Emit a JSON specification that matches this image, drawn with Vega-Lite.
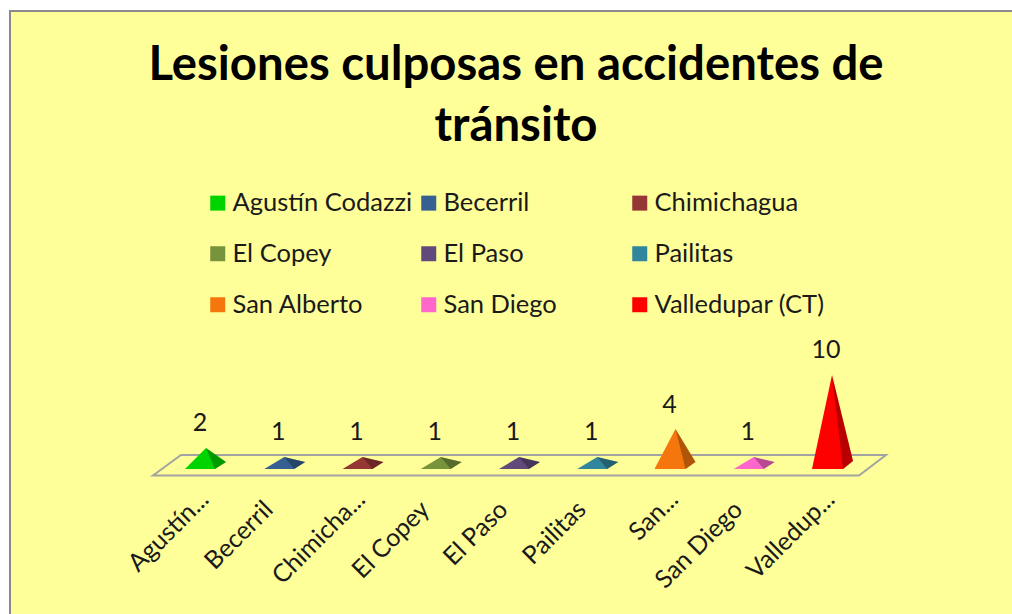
{
"$schema":"https://vega.github.io/schema/vega-lite/v6.json",
"width":1004,"height":605,
"autosize":"none",
"padding":{"left":10,"top":11,"right":0,"bottom":0},
"background":"#ffffff",
"view":{"fill":"#FFFF99","stroke":"#8A8A8A","strokeWidth":2},
"title":{"text":["Lesiones culposas en accidentes de","tránsito"],"font":"Lato","fontSize":47.3,"fontWeight":"bold","color":"#000000","frame":"group","anchor":"start","align":"center","dx":506,"dy":140,"lineHeight":61,"baseline":"top","offset":0},
"data":{"values":[
{"municipio":"Agustín Codazzi","etiqueta":"Agustín...","valor":2},
{"municipio":"Becerril","etiqueta":"Becerril","valor":1},
{"municipio":"Chimichagua","etiqueta":"Chimicha...","valor":1},
{"municipio":"El Copey","etiqueta":"El Copey","valor":1},
{"municipio":"El Paso","etiqueta":"El Paso","valor":1},
{"municipio":"Pailitas","etiqueta":"Pailitas","valor":1},
{"municipio":"San Alberto","etiqueta":"San...","valor":4},
{"municipio":"San Diego","etiqueta":"San Diego","valor":1},
{"municipio":"Valledupar (CT)","etiqueta":"Valledup...","valor":10}
]},
"encoding":{
"x":{"field":"etiqueta","type":"nominal","sort":null,"scale":{"type":"point","domain":["Agustín...","Becerril","Chimicha...","El Copey","El Paso","Pailitas","San...","San Diego","Valledup..."],"range":[196,822],"padding":0},
"axis":{"title":null,"orient":"bottom","offset":-120,"domain":false,"ticks":false,"grid":false,"labelAngle":-45,"labelAlign":"right","labelBaseline":"middle","labelFont":"Lato","labelFontSize":25,"labelColor":"#1A1A1A",
"labelPadding":{"condition":{"test":"indexof(datum.label,'...')>=0","value":-1},"value":9},
"labelOffset":{"condition":{"test":"indexof(datum.label,'...')>=0","value":-2},"value":-16},
"labelLimit":400,"labelOverlap":false}}
},
"layer":[
{"transform":[{"filter":"datum.municipio === 'El Paso'"}],
 "mark":{"type":"point","shape":"M-366 9.5L340 9.5L367 -11L-338 -11Z","filled":false,"size":4,"stroke":"#A3A3A3","strokeWidth":2,"opacity":1},
 "encoding":{"y":{"datum":0,"type":"quantitative","scale":{"domain":[0,10],"range":[455,364]},"axis":null}}},
{"mark":{"type":"point","filled":true,"size":4,"opacity":1},
 "encoding":{"y":{"datum":0,"type":"quantitative","axis":null},
 "color":{"field":"municipio","type":"nominal","sort":null,
  "scale":{"domain":["Agustín Codazzi","Becerril","Chimichagua","El Copey","El Paso","Pailitas","San Alberto","San Diego","Valledupar (CT)"],
  "range":["#00D400","#376092","#953735","#77933C","#604A7B","#31859C","#F4760C","#FF66CC","#FF0000"]},
  "legend":{"title":null,"orient":"none","legendX":195,"legendY":179,"columns":3,"direction":"horizontal","gridAlign":"all","symbolType":"square","symbolSize":225,"symbolOpacity":1,"labelFont":"Lato","labelFontSize":25.5,"labelColor":"#1A1A1A","labelOffset":2,"columnPadding":3,"rowPadding":24,"labelLimit":400,"padding":0}},
 "shape":{"field":"valor","type":"nominal","legend":null,"scale":{"domain":[1,2,4,10],"range":[
  "M-20 3L10 3L21 -4L0 -9Z","M-21 3L9 3L20 -4L0 -18Z","M-21 3L10 3L20 -4L0 -37Z","M-20 3L11 3L21 -5L0 -91Z"]}}}},
{"mark":{"type":"point","filled":true,"size":4,"opacity":0.28,"fill":"#000000"},
 "encoding":{"y":{"datum":0,"type":"quantitative","axis":null},
 "shape":{"field":"valor","type":"nominal","legend":null,"scale":{"domain":[1,2,4,10],"range":[
  "M0 -9L10 3L21 -4Z","M0 -18L9 3L20 -4Z","M0 -37L10 3L20 -4Z","M0 -91L11 3L21 -5Z"]}}}},
{"mark":{"type":"text","font":"Lato","fontSize":25,"color":"#1A1A1A","dx":-6,"dy":-25,"baseline":"middle","align":"center"},
 "encoding":{"y":{"field":"valor","type":"quantitative","axis":null},"text":{"field":"valor","type":"quantitative"}}}
],
"resolve":{"scale":{"shape":"independent"}}
}
